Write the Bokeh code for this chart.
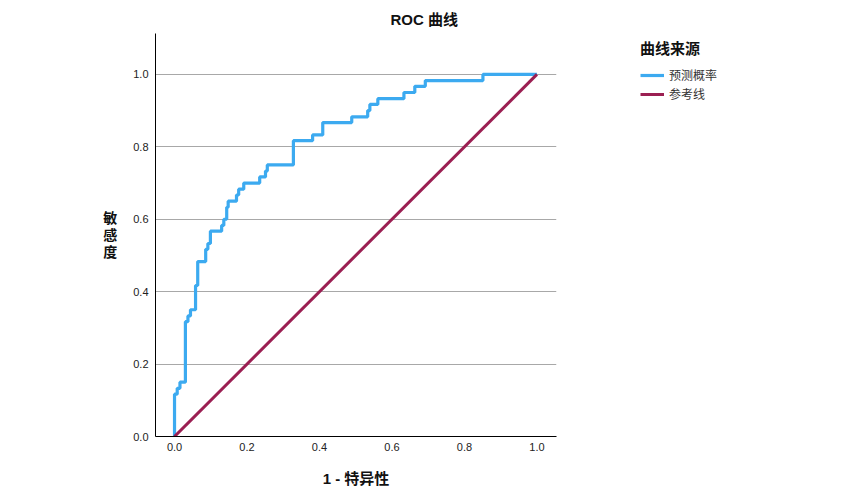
from bokeh.plotting import figure
from bokeh.models import Legend, LegendItem, FixedTicker, Range1d, PrintfTickFormatter
from bokeh.embed import file_html
from bokeh.resources import INLINE

# ---- data ----
fpr = [0.0, 0.0, 0.0074, 0.015, 0.030, 0.037, 0.044, 0.058, 0.064, 0.086, 0.092,
       0.099, 0.130, 0.136, 0.144, 0.148, 0.171, 0.177, 0.191, 0.235, 0.251,
       0.256, 0.328, 0.381, 0.409, 0.489, 0.533, 0.539, 0.561, 0.633, 0.663,
       0.692, 0.851, 1.0]
tpr = [0.0, 0.117, 0.133, 0.150, 0.317, 0.333, 0.350, 0.417, 0.483, 0.517, 0.533,
       0.567, 0.583, 0.600, 0.633, 0.650, 0.667, 0.683, 0.700, 0.717, 0.733,
       0.750, 0.817, 0.833, 0.867, 0.883, 0.900, 0.917, 0.933, 0.950, 0.967,
       0.983, 1.000, 1.000]
ref_x = [0.0, 1.0]
ref_y = [0.0, 1.0]
ticks = [0.0, 0.2, 0.4, 0.6, 0.8, 1.0]
series_names = ["预测概率", "参考线"]
title_text = "ROC 曲线"
x_label = "1 - 特异性"
y_label = "敏\n感\n度"
legend_title = "曲线来源"

BLUE = "#3caaf0"
MAROON = "#9b1f52"
FONT = "Liberation Sans, Noto Sans CJK SC"

p = figure(frame_width=401, frame_height=403, min_border_left=155, min_border_right=290,
           min_border_top=33, min_border_bottom=60, output_backend="svg",
           toolbar_location=None, x_range=Range1d(-0.0525, 1.054), y_range=Range1d(0, 1.113))
p.outline_line_color = None
p.background_fill_color = "white"
p.border_fill_color = "white"

p.title.text = title_text
p.title.align = "left"
p.title.offset = 235
p.title.text_font = FONT
p.title.text_font_size = "15px"
p.title.text_font_style = "bold"
p.title.text_color = "#111111"
p.title.standoff = 12

for ax in (p.xaxis[0], p.yaxis[0]):
    ax.ticker = FixedTicker(ticks=ticks)
    ax.formatter = PrintfTickFormatter(format="%.1f")
    ax.major_tick_in = 0
    ax.major_tick_out = 0
    ax.minor_tick_in = 0
    ax.minor_tick_out = 0
    ax.axis_line_color = "black"
    ax.axis_line_width = 1
    ax.major_label_text_font = FONT
    ax.major_label_text_font_size = "11px"
    ax.major_label_text_color = "#222222"
    ax.axis_label_text_font = FONT
    ax.axis_label_text_font_style = "bold"
    ax.axis_label_text_color = "#111111"

p.yaxis[0].major_label_standoff = 7
p.xaxis[0].major_label_standoff = 6

p.xaxis[0].axis_label = x_label
p.xaxis[0].axis_label_text_font_size = "15px"
p.xaxis[0].axis_label_standoff = 16

p.yaxis[0].axis_label = y_label
p.yaxis[0].axis_label_orientation = "horizontal"
p.yaxis[0].axis_label_text_font_size = "14px"
p.yaxis[0].axis_label_text_line_height = 1.05
p.yaxis[0].axis_label_standoff = 13

p.xgrid.visible = False
p.ygrid.ticker = FixedTicker(ticks=ticks[1:])
p.ygrid.grid_line_color = "#a8a8a8"
p.ygrid.grid_line_width = 1

r_roc = p.step(fpr, tpr, mode="after", line_color=BLUE, line_width=3.2)
r_ref = p.line(ref_x, ref_y, line_color=MAROON, line_width=3)

legend = Legend(items=[LegendItem(label=series_names[0], renderers=[r_roc]),
                       LegendItem(label=series_names[1], renderers=[r_ref])],
                location=(84, 334), margin=0, padding=0, border_line_color=None,
                background_fill_alpha=0, glyph_width=24, glyph_height=16,
                label_standoff=5, spacing=2, label_text_font=FONT,
                label_text_font_size="12px", label_text_color="#333333",
                title=legend_title, title_text_font=FONT, title_text_font_size="15px",
                title_text_font_style="bold", title_text_color="#111111",
                title_standoff=8)
p.add_layout(legend, "right")

open("out.html", "w").write(file_html(p, INLINE))
